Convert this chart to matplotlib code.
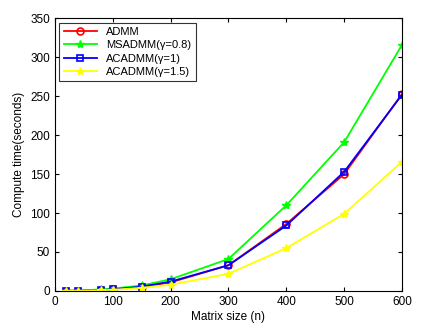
import numpy as np
import matplotlib
matplotlib.use("Agg")
import matplotlib.pyplot as plt

plt.rcParams['font.family'] = ['Liberation Sans', 'DejaVu Sans']

sizes = [20, 40, 80, 100, 150, 200, 300, 400, 500, 600]
admm = [0.1, 0.3, 1.0, 2.0, 5.0, 11.0, 33.0, 86.0, 150.0, 253.0]
msadmm = [0.2, 0.5, 2.0, 3.0, 7.0, 15.0, 41.0, 110.0, 191.0, 316.0]
acadmm1 = [0.1, 0.3, 1.0, 2.0, 5.5, 12.0, 33.0, 84.0, 153.0, 252.0]
acadmm15 = [0.1, 0.2, 0.8, 1.5, 4.0, 8.0, 22.0, 55.0, 99.0, 166.0]

fig = plt.figure(figsize=(4.39, 3.24), dpi=100)
ax = fig.add_axes([0.125, 0.102, 0.791, 0.842])

ax.plot(sizes, admm, color='red', marker='o', ms=5, mfc='none', mew=1.2, lw=1.3, label='ADMM')
ax.plot(sizes, msadmm, color='#00ff00', marker='*', ms=6, lw=1.3, label='MSADMM(\u03b3=0.8)')
ax.plot(sizes, acadmm1, color='blue', marker='s', ms=5, mfc='none', mew=1.2, lw=1.3, label='ACADMM(\u03b3=1)')
ax.plot(sizes, acadmm15, color='yellow', marker='*', ms=6, lw=1.3, label='ACADMM(\u03b3=1.5)')

ax.set_xlim(0, 600)
ax.set_ylim(0, 350)
ax.set_xticks(np.arange(0, 601, 100))
ax.set_yticks(np.arange(0, 351, 50))
ax.tick_params(direction='in', top=True, right=True, labelsize=8.5, length=3)
ax.set_xlabel('Matrix size (n)', fontsize=8.5, labelpad=2)
ax.set_ylabel('Compute time(seconds)', fontsize=8.5, labelpad=4)

leg = ax.legend(loc='upper left', fontsize=8, fancybox=False, edgecolor='black',
                borderaxespad=0.4, handlelength=3, labelspacing=0.3, borderpad=0.4)
leg.get_frame().set_linewidth(0.8)

fig.savefig('out.png', dpi=100)
